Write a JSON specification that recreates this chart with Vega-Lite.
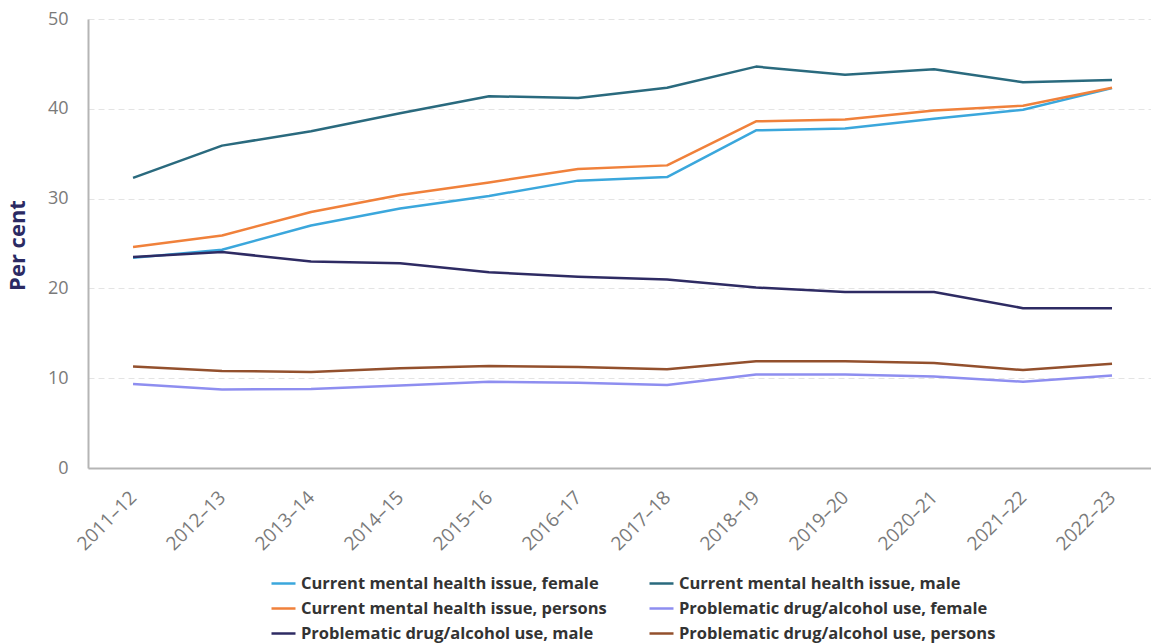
{
  "$schema": "https://vega.github.io/schema/vega-lite/v6.json",
  "width": 1063,
  "height": 449,
  "autosize": {"type": "none"},
  "padding": {"left": 88, "top": 19, "right": 0, "bottom": 176},
  "background": "white",
  "config": {"font": "Open Sans", "view": {"stroke": null}},
  "data": {"values": [
    {"year": "2011–12", "series": "Current mental health issue, female", "value": 23.4},
    {"year": "2012–13", "series": "Current mental health issue, female", "value": 24.3},
    {"year": "2013–14", "series": "Current mental health issue, female", "value": 27.0},
    {"year": "2014–15", "series": "Current mental health issue, female", "value": 28.9},
    {"year": "2015–16", "series": "Current mental health issue, female", "value": 30.3},
    {"year": "2016–17", "series": "Current mental health issue, female", "value": 32.0},
    {"year": "2017–18", "series": "Current mental health issue, female", "value": 32.4},
    {"year": "2018–19", "series": "Current mental health issue, female", "value": 37.6},
    {"year": "2019–20", "series": "Current mental health issue, female", "value": 37.8},
    {"year": "2020–21", "series": "Current mental health issue, female", "value": 38.9},
    {"year": "2021–22", "series": "Current mental health issue, female", "value": 39.9},
    {"year": "2022–23", "series": "Current mental health issue, female", "value": 42.3},
    {"year": "2011–12", "series": "Current mental health issue, male", "value": 32.3},
    {"year": "2012–13", "series": "Current mental health issue, male", "value": 35.9},
    {"year": "2013–14", "series": "Current mental health issue, male", "value": 37.5},
    {"year": "2014–15", "series": "Current mental health issue, male", "value": 39.5},
    {"year": "2015–16", "series": "Current mental health issue, male", "value": 41.4},
    {"year": "2016–17", "series": "Current mental health issue, male", "value": 41.2},
    {"year": "2017–18", "series": "Current mental health issue, male", "value": 42.35},
    {"year": "2018–19", "series": "Current mental health issue, male", "value": 44.7},
    {"year": "2019–20", "series": "Current mental health issue, male", "value": 43.8},
    {"year": "2020–21", "series": "Current mental health issue, male", "value": 44.4},
    {"year": "2021–22", "series": "Current mental health issue, male", "value": 42.95},
    {"year": "2022–23", "series": "Current mental health issue, male", "value": 43.2},
    {"year": "2011–12", "series": "Current mental health issue, persons", "value": 24.6},
    {"year": "2012–13", "series": "Current mental health issue, persons", "value": 25.9},
    {"year": "2013–14", "series": "Current mental health issue, persons", "value": 28.5},
    {"year": "2014–15", "series": "Current mental health issue, persons", "value": 30.4},
    {"year": "2015–16", "series": "Current mental health issue, persons", "value": 31.8},
    {"year": "2016–17", "series": "Current mental health issue, persons", "value": 33.3},
    {"year": "2017–18", "series": "Current mental health issue, persons", "value": 33.7},
    {"year": "2018–19", "series": "Current mental health issue, persons", "value": 38.6},
    {"year": "2019–20", "series": "Current mental health issue, persons", "value": 38.8},
    {"year": "2020–21", "series": "Current mental health issue, persons", "value": 39.8},
    {"year": "2021–22", "series": "Current mental health issue, persons", "value": 40.35},
    {"year": "2022–23", "series": "Current mental health issue, persons", "value": 42.35},
    {"year": "2011–12", "series": "Problematic drug/alcohol use, female", "value": 9.35},
    {"year": "2012–13", "series": "Problematic drug/alcohol use, female", "value": 8.75},
    {"year": "2013–14", "series": "Problematic drug/alcohol use, female", "value": 8.8},
    {"year": "2014–15", "series": "Problematic drug/alcohol use, female", "value": 9.2},
    {"year": "2015–16", "series": "Problematic drug/alcohol use, female", "value": 9.6},
    {"year": "2016–17", "series": "Problematic drug/alcohol use, female", "value": 9.5},
    {"year": "2017–18", "series": "Problematic drug/alcohol use, female", "value": 9.25},
    {"year": "2018–19", "series": "Problematic drug/alcohol use, female", "value": 10.4},
    {"year": "2019–20", "series": "Problematic drug/alcohol use, female", "value": 10.4},
    {"year": "2020–21", "series": "Problematic drug/alcohol use, female", "value": 10.2},
    {"year": "2021–22", "series": "Problematic drug/alcohol use, female", "value": 9.6},
    {"year": "2022–23", "series": "Problematic drug/alcohol use, female", "value": 10.3},
    {"year": "2011–12", "series": "Problematic drug/alcohol use, male", "value": 23.5},
    {"year": "2012–13", "series": "Problematic drug/alcohol use, male", "value": 24.05},
    {"year": "2013–14", "series": "Problematic drug/alcohol use, male", "value": 23.0},
    {"year": "2014–15", "series": "Problematic drug/alcohol use, male", "value": 22.8},
    {"year": "2015–16", "series": "Problematic drug/alcohol use, male", "value": 21.8},
    {"year": "2016–17", "series": "Problematic drug/alcohol use, male", "value": 21.3},
    {"year": "2017–18", "series": "Problematic drug/alcohol use, male", "value": 21.0},
    {"year": "2018–19", "series": "Problematic drug/alcohol use, male", "value": 20.1},
    {"year": "2019–20", "series": "Problematic drug/alcohol use, male", "value": 19.6},
    {"year": "2020–21", "series": "Problematic drug/alcohol use, male", "value": 19.6},
    {"year": "2021–22", "series": "Problematic drug/alcohol use, male", "value": 17.8},
    {"year": "2022–23", "series": "Problematic drug/alcohol use, male", "value": 17.8},
    {"year": "2011–12", "series": "Problematic drug/alcohol use, persons", "value": 11.3},
    {"year": "2012–13", "series": "Problematic drug/alcohol use, persons", "value": 10.8},
    {"year": "2013–14", "series": "Problematic drug/alcohol use, persons", "value": 10.7},
    {"year": "2014–15", "series": "Problematic drug/alcohol use, persons", "value": 11.1},
    {"year": "2015–16", "series": "Problematic drug/alcohol use, persons", "value": 11.35},
    {"year": "2016–17", "series": "Problematic drug/alcohol use, persons", "value": 11.25},
    {"year": "2017–18", "series": "Problematic drug/alcohol use, persons", "value": 11.0},
    {"year": "2018–19", "series": "Problematic drug/alcohol use, persons", "value": 11.9},
    {"year": "2019–20", "series": "Problematic drug/alcohol use, persons", "value": 11.9},
    {"year": "2020–21", "series": "Problematic drug/alcohol use, persons", "value": 11.7},
    {"year": "2021–22", "series": "Problematic drug/alcohol use, persons", "value": 10.9},
    {"year": "2022–23", "series": "Problematic drug/alcohol use, persons", "value": 11.6}
  ]},
  "mark": {"type": "line", "strokeWidth": 2.5, "strokeJoin": "round"},
  "encoding": {
    "x": {
      "field": "year", "type": "ordinal", "sort": null,
      "scale": {"type": "point", "padding": 0.472, "align": 0.536},
      "axis": {
        "title": null, "labelAngle": -45, "labelAlign": "right", "labelBaseline": "middle",
        "labelFontSize": 19, "labelColor": "#7a7a7a", "labelPadding": 26,
        "ticks": false, "grid": false, "domainColor": "#b5b5b5", "domainWidth": 2
      }
    },
    "y": {
      "field": "value", "type": "quantitative",
      "scale": {"domain": [0, 50]},
      "axis": {
        "title": "Per cent", "titleFontSize": 22, "titleFontWeight": "bold", "titleColor": "#2b2a63",
        "titleX": -59, "titleY": 226, "titleAngle": -90,
        "values": [0, 10, 20, 30, 40, 50], "labelFontSize": 18, "labelColor": "#7a7a7a", "labelPadding": 20,
        "ticks": false, "domainColor": "#b5b5b5", "domainWidth": 2,
        "gridColor": "#e4e4e4", "gridDash": [6, 4], "gridWidth": 1
      }
    },
    "color": {
      "field": "series", "type": "nominal",
      "scale": {
        "domain": [
          "Current mental health issue, female",
          "Current mental health issue, male",
          "Current mental health issue, persons",
          "Problematic drug/alcohol use, female",
          "Problematic drug/alcohol use, male",
          "Problematic drug/alcohol use, persons"
        ],
        "range": ["#3ba7dc", "#2a6a7e", "#f0813b", "#8e8ef0", "#2e2b63", "#93502d"]
      },
      "legend": {
        "title": null, "orient": "none", "legendX": 182, "legendY": 551, "columns": 2,
        "direction": "horizontal",
        "symbolType": "stroke", "symbolSize": 576, "symbolStrokeWidth": 2.5,
        "labelFontSize": 16.5, "labelFontWeight": "bold", "labelColor": "#333333",
        "labelLimit": 500, "columnPadding": 26, "rowPadding": 3, "labelOffset": 4,
        "gridAlign": "all"
      }
    }
  }
}
